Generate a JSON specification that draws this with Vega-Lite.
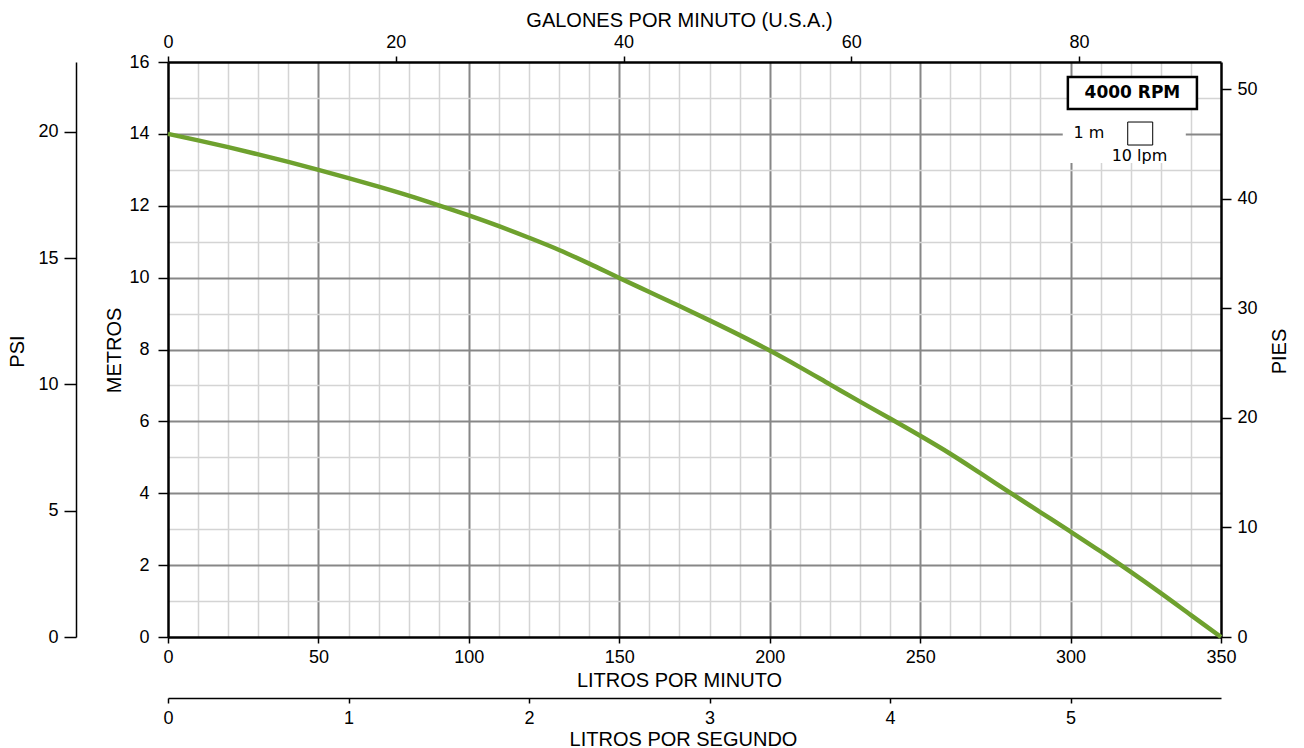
{
  "$schema": "https://vega.github.io/schema/vega-lite/v6.json",
  "width": 1053,
  "height": 575,
  "autosize": {"type": "none"},
  "padding": {"left": 168, "top": 62, "right": 83, "bottom": 111},
  "background": "white",
  "config": {
    "view": {"stroke": null},
    "axis": {
      "labelFont": "Liberation Sans",
      "labelFontSize": 18,
      "labelColor": "black",
      "labelFlush": false,
      "labelOverlap": false,
      "titleFont": "Liberation Sans",
      "titleFontSize": 20,
      "titleFontWeight": "normal",
      "titleColor": "black",
      "tickColor": "black",
      "domainColor": "black"
    }
  },
  "data": {
    "values": [
      {"lpm": 0, "m": 14.0}, {"lpm": 10, "m": 13.82}, {"lpm": 20, "m": 13.63},
      {"lpm": 30, "m": 13.43}, {"lpm": 40, "m": 13.22}, {"lpm": 50, "m": 13.0},
      {"lpm": 60, "m": 12.77}, {"lpm": 70, "m": 12.53}, {"lpm": 80, "m": 12.28},
      {"lpm": 90, "m": 12.01}, {"lpm": 100, "m": 11.73}, {"lpm": 110, "m": 11.43},
      {"lpm": 120, "m": 11.11}, {"lpm": 130, "m": 10.77}, {"lpm": 140, "m": 10.39},
      {"lpm": 150, "m": 9.99}, {"lpm": 160, "m": 9.6}, {"lpm": 170, "m": 9.21},
      {"lpm": 180, "m": 8.81}, {"lpm": 190, "m": 8.4}, {"lpm": 200, "m": 7.97},
      {"lpm": 210, "m": 7.51}, {"lpm": 220, "m": 7.03}, {"lpm": 230, "m": 6.55},
      {"lpm": 240, "m": 6.08}, {"lpm": 250, "m": 5.6}, {"lpm": 260, "m": 5.1},
      {"lpm": 270, "m": 4.56}, {"lpm": 280, "m": 4.01}, {"lpm": 290, "m": 3.47},
      {"lpm": 300, "m": 2.93}, {"lpm": 310, "m": 2.38}, {"lpm": 320, "m": 1.81},
      {"lpm": 330, "m": 1.22}, {"lpm": 340, "m": 0.61}, {"lpm": 350, "m": 0.0}
    ]
  },
  "resolve": {"axis": {"x": "independent", "y": "independent"}},
  "layer": [
    {
      "mark": {"type": "point", "opacity": 0},
      "encoding": {
        "x": {"field": "lpm", "type": "quantitative", "scale": {"domain": [0, 350], "nice": false, "zero": false},
          "axis": {"orient": "bottom", "grid": true, "gridColor": "#d4d4d4", "gridWidth": 1.5, "gridOpacity": 1,
            "values": [10,20,30,40,60,70,80,90,110,120,130,140,160,170,180,190,210,220,230,240,260,270,280,290,310,320,330,340],
            "labels": false, "ticks": false, "domain": false, "title": null}},
        "y": {"field": "m", "type": "quantitative", "scale": {"domain": [0, 16], "nice": false, "zero": false},
          "axis": {"orient": "left", "grid": true, "gridColor": "#d4d4d4", "gridWidth": 1.5, "gridOpacity": 1,
            "values": [1,3,5,7,9,11,13,15],
            "labels": false, "ticks": false, "domain": false, "title": null}}
      }
    },
    {
      "mark": {"type": "point", "opacity": 0},
      "encoding": {
        "x": {"field": "lpm", "type": "quantitative",
          "axis": {"orient": "bottom", "grid": true, "gridColor": "#878787", "gridWidth": 2, "gridOpacity": 1,
            "values": [50,100,150,200,250,300],
            "labels": false, "ticks": false, "domain": false, "title": null}},
        "y": {"field": "m", "type": "quantitative",
          "axis": {"orient": "left", "grid": true, "gridColor": "#878787", "gridWidth": 2, "gridOpacity": 1,
            "values": [2,4,6,8,10,12,14],
            "labels": false, "ticks": false, "domain": false, "title": null}}
      }
    },
    {
      "mark": {"type": "point", "opacity": 0},
      "encoding": {
        "x": {"field": "lpm", "type": "quantitative",
          "axis": {"orient": "bottom", "offset": 61, "grid": false, "domainWidth": 1.5, "tickSize": 5, "tickWidth": 1.5,
            "values": [0, 60, 120, 180, 240, 300], "labelExpr": "format(datum.value/60, 'd')", "labelPadding": 6,
            "title": "LITROS POR SEGUNDO", "titleX": 515, "titleY": 41, "titleBaseline": "middle", "titleAlign": "center"}},
        "y": {"field": "m", "type": "quantitative",
          "axis": {"orient": "left", "offset": 92, "grid": false, "domainWidth": 1.5, "tickSize": 12, "tickWidth": 1.5,
            "values": [0, 3.51535, 7.0307, 10.54605, 14.0614], "labelExpr": "format(round(datum.value/0.70307), 'd')", "labelPadding": 6,
            "title": "PSI", "titleX": -59, "titleY": 289, "titleBaseline": "middle", "titleAlign": "center", "titleAngle": 270}}
      }
    },
    {
      "mark": {"type": "point", "opacity": 0},
      "encoding": {
        "x": {"field": "lpm", "type": "quantitative",
          "axis": {"orient": "top", "grid": false, "domainWidth": 2.5, "tickSize": 6, "tickWidth": 1.5,
            "values": [0, 75.7082, 151.4164, 227.1247, 302.8329], "labelExpr": "format(round(datum.value/3.785412), 'd')", "labelPadding": 5,
            "title": "GALONES POR MINUTO (U.S.A.)", "titleX": 511, "titleY": -42, "titleBaseline": "middle", "titleAlign": "center"}},
        "y": {"field": "m", "type": "quantitative",
          "axis": {"orient": "right", "grid": false, "domainWidth": 2.5, "tickSize": 10, "tickWidth": 1.5,
            "values": [0, 3.048, 6.096, 9.144, 12.192, 15.24], "labelExpr": "format(round(datum.value/0.3048), 'd')", "labelPadding": 6,
            "title": "PIES", "titleX": 58, "titleY": 289, "titleBaseline": "middle", "titleAlign": "center", "titleAngle": 270}}
      }
    },
    {
      "mark": {"type": "line", "color": "#6ea12e", "strokeWidth": 4.5, "interpolate": "monotone"},
      "encoding": {
        "x": {"field": "lpm", "type": "quantitative",
          "axis": {"orient": "bottom", "grid": false, "domainWidth": 2.5, "tickSize": 6, "tickWidth": 1.5,
            "values": [0, 50, 100, 150, 200, 250, 300, 350], "labelPadding": 5,
            "title": "LITROS POR MINUTO", "titleX": 511, "titleY": 43, "titleBaseline": "middle", "titleAlign": "center"}},
        "y": {"field": "m", "type": "quantitative",
          "axis": {"orient": "left", "grid": false, "domainWidth": 2.5, "tickSize": 10, "tickWidth": 1.5,
            "values": [0, 2, 4, 6, 8, 10, 12, 14, 16], "labelPadding": 9,
            "title": "METROS", "titleX": -54, "titleY": 288, "titleBaseline": "middle", "titleAlign": "center", "titleAngle": 270}}
      }
    },
    {
      "data": {"values": [{"k": "legend"}]},
      "mark": {"type": "rect", "fill": "white", "stroke": null},
      "encoding": {
        "x": {"datum": 297.4, "type": "quantitative", "axis": null},
        "x2": {"datum": 338.3},
        "y": {"datum": 14.69, "type": "quantitative", "axis": null},
        "y2": {"datum": 13.19}
      }
    },
    {
      "data": {"values": [{"k": "rpm"}]},
      "mark": {"type": "rect", "fill": "white", "stroke": "black", "strokeWidth": 2.5},
      "encoding": {
        "x": {"datum": 299.1, "type": "quantitative", "axis": null},
        "x2": {"datum": 342.0},
        "y": {"datum": 15.58, "type": "quantitative", "axis": null},
        "y2": {"datum": 14.69}
      }
    },
    {
      "data": {"values": [{"k": "square"}]},
      "mark": {"type": "rect", "fill": "white", "stroke": "black", "strokeWidth": 1},
      "encoding": {
        "x": {"datum": 319.0, "type": "quantitative", "axis": null},
        "x2": {"datum": 327.3},
        "y": {"datum": 14.33, "type": "quantitative", "axis": null},
        "y2": {"datum": 13.69}
      }
    },
    {
      "data": {"values": [{"label": "4000 RPM"}]},
      "mark": {"type": "text", "font": "DejaVu Sans", "fontWeight": "bold", "fontSize": 17, "align": "center", "baseline": "middle", "color": "black"},
      "encoding": {
        "x": {"datum": 320.55, "type": "quantitative", "axis": null},
        "y": {"datum": 15.13, "type": "quantitative", "axis": null},
        "text": {"field": "label"}
      }
    },
    {
      "data": {"values": [{"label": "1 m"}]},
      "mark": {"type": "text", "font": "DejaVu Sans", "fontSize": 16, "align": "center", "baseline": "middle", "color": "black"},
      "encoding": {
        "x": {"datum": 306.1, "type": "quantitative", "axis": null},
        "y": {"datum": 14.02, "type": "quantitative", "axis": null},
        "text": {"field": "label"}
      }
    },
    {
      "data": {"values": [{"label": "10 lpm"}]},
      "mark": {"type": "text", "font": "DejaVu Sans", "fontSize": 16, "align": "center", "baseline": "middle", "color": "black"},
      "encoding": {
        "x": {"datum": 322.9, "type": "quantitative", "axis": null},
        "y": {"datum": 13.39, "type": "quantitative", "axis": null},
        "text": {"field": "label"}
      }
    }
  ]
}
